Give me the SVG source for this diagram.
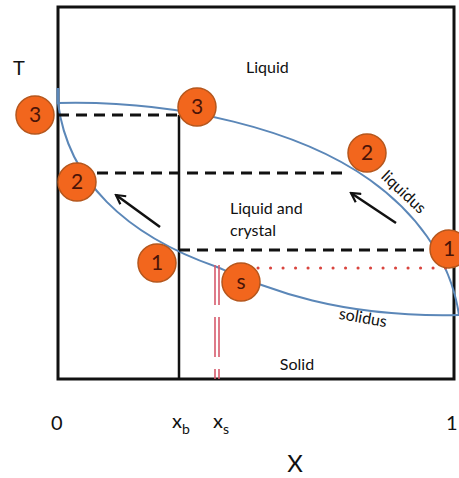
<svg xmlns="http://www.w3.org/2000/svg" width="459" height="478" viewBox="0 0 459 478">
<style>
text{font-family:Lato,"Open Sans","Liberation Sans",sans-serif;fill:#111}
.lbl{font-size:16px}
.ax{font-size:20px}
.dash{stroke:#111;stroke-width:3;stroke-dasharray:11 7;fill:none}
.curve{stroke:#5b87b8;stroke-width:2;fill:none}
.node circle{fill:#f2661d;stroke:#b5561c;stroke-width:1.5}
.node text{font-size:21px;fill:#4a1408;text-anchor:middle}
.red2{stroke:#d65a6c;stroke-width:1.6;stroke-dasharray:40 12;fill:none}
</style>
<defs>
<marker id="ah" viewBox="0 0 12 12" refX="10" refY="6" markerWidth="12" markerHeight="12" markerUnits="userSpaceOnUse" orient="auto">
<path d="M1,1 L10,6 L1,11" fill="none" stroke="#111" stroke-width="2.2"/>
</marker>
</defs>
<rect x="0" y="0" width="459" height="478" fill="#fff"/>
<g id="frame">
<rect x="58" y="7" width="396" height="372" fill="none" stroke="#111" stroke-width="3"/>
<line x1="179" y1="115" x2="179" y2="379" stroke="#111" stroke-width="2.5"/>
</g>
<g id="connectors">
<line x1="58" y1="88" x2="58" y2="104" stroke="#5b87b8" stroke-width="3"/>
<path id="liq" class="curve" d="M58,103 C180,100 300,130 370,180 C412,210 450,255 459,315"/>
<path id="sol" class="curve" d="M58,103 C68,180 125,235 217,267 C260,285 330,318 459,315"/>
<line class="dash" x1="58" y1="115" x2="179" y2="115"/>
<line class="dash" x1="97" y1="173" x2="347" y2="173"/>
<line class="dash" x1="179" y1="250" x2="430" y2="250"/>
<line x1="258" y1="268" x2="446" y2="268" stroke="#d9453f" stroke-width="3" stroke-linecap="round" stroke-dasharray="0.1 12.4"/>
<line class="red2" x1="215" y1="265" x2="215" y2="379"/>
<line class="red2" x1="219" y1="265" x2="219" y2="379"/>
<line x1="160" y1="227" x2="116" y2="195" stroke="#111" stroke-width="2.5" marker-end="url(#ah)"/>
<line x1="396" y1="223" x2="351" y2="193" stroke="#111" stroke-width="2.5" marker-end="url(#ah)"/>
</g>
<g id="labels">
<text x="13" y="75" class="ax">T</text>
<text x="246" y="73" class="lbl">Liquid</text>
<text x="230" y="214" class="lbl">Liquid and</text>
<text x="230" y="236" class="lbl">crystal</text>
<text x="297" y="370" class="lbl" text-anchor="middle">Solid</text>
<text x="0" y="0" class="lbl" text-anchor="middle" transform="translate(400,196) rotate(43)">liquidus</text>
<text x="0" y="0" class="lbl" text-anchor="middle" transform="translate(362,323) rotate(10)">solidus</text>
<text x="51" y="430" class="ax">0</text>
<text x="172" y="428" class="ax">x<tspan font-size="14" dy="6">b</tspan></text>
<text x="213" y="428" class="ax">x<tspan font-size="14" dy="6">s</tspan></text>
<text x="446" y="430" class="ax">1</text>
<text x="295" y="472" font-size="24" text-anchor="middle">X</text>
</g>
<g id="n3a" class="node"><circle cx="35" cy="115" r="19"/><text x="35" y="122">3</text></g>
<g id="n3b" class="node"><circle cx="197" cy="107" r="19"/><text x="197" y="114">3</text></g>
<g id="n2a" class="node"><circle cx="77" cy="182" r="19"/><text x="77" y="189">2</text></g>
<g id="n2b" class="node"><circle cx="367" cy="153" r="19"/><text x="367" y="160">2</text></g>
<g id="n1a" class="node"><circle cx="157" cy="263" r="19"/><text x="157" y="270">1</text></g>
<g id="n1b" class="node"><circle cx="449" cy="249" r="19"/><text x="449" y="256">1</text></g>
<g id="ns" class="node"><circle cx="241" cy="282" r="19"/><text x="241" y="289">s</text></g>
</svg>
